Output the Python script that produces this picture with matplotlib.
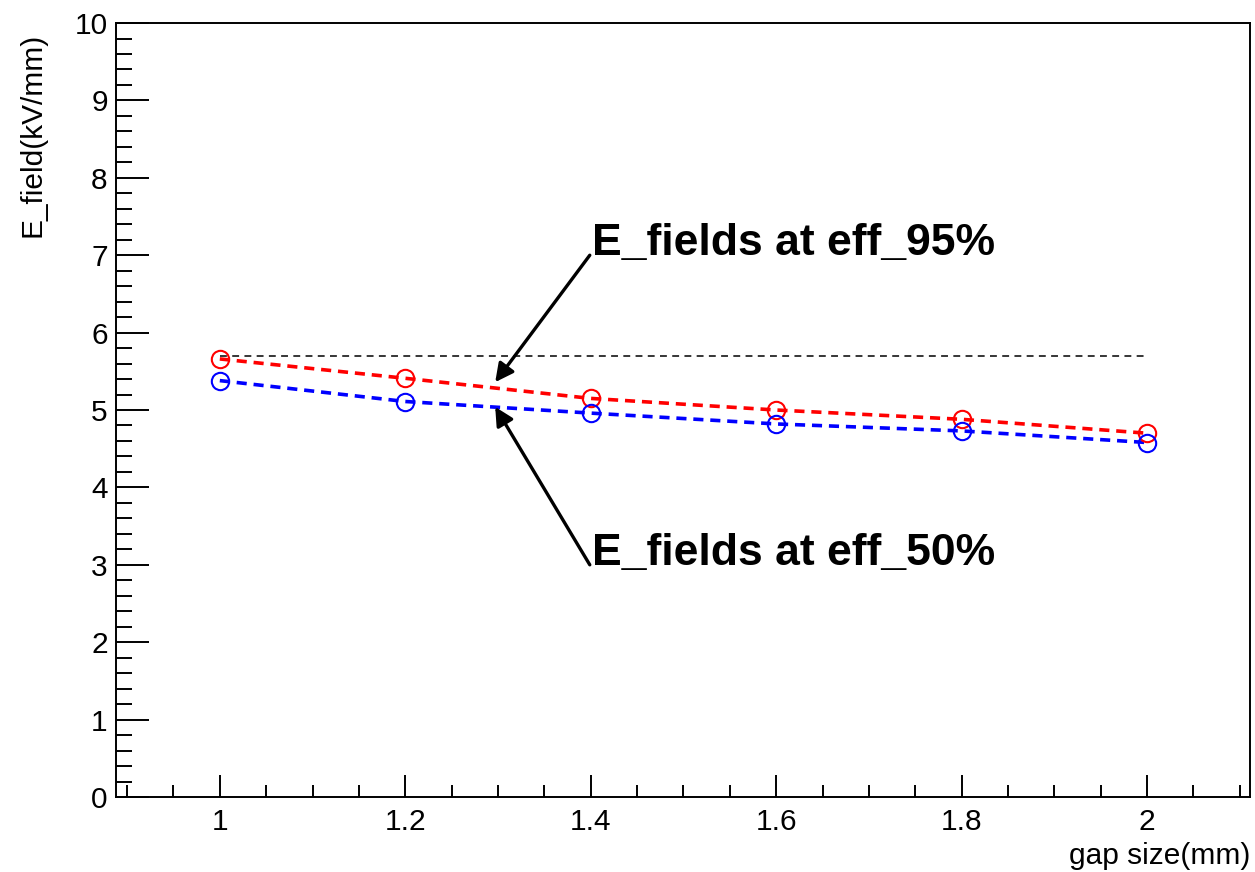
import numpy as np
import matplotlib
matplotlib.use("Agg")
import matplotlib.pyplot as plt
from matplotlib.ticker import MultipleLocator

plt.rcParams['font.family'] = ['Liberation Sans', 'DejaVu Sans']

# data
gap = [1.0, 1.2, 1.4, 1.6, 1.8, 2.0]
eff95 = [5.66, 5.41, 5.15, 5.00, 4.88, 4.70]
eff50 = [5.38, 5.11, 4.96, 4.82, 4.73, 4.58]
ref_x = [1.0, 2.0]
ref_y = [5.70, 5.70]

fig = plt.figure(figsize=(12.55, 8.72), dpi=100)
ax = fig.add_axes([0.0924, 0.086, 0.9036, 0.8876])

ax.plot(ref_x, ref_y, color="black", lw=1.1, linestyle=(0, (4.5, 3.5)))
ax.plot(gap, eff95, color="red", lw=2.6, linestyle=(0, (2.8, 1.9)))
ax.plot(gap, eff50, color="blue", lw=2.6, linestyle=(0, (2.8, 1.9)))
ax.plot(gap, eff95, "o", mfc="none", mec="red", ms=12.5, mew=1.5)
ax.plot(gap, eff50, "o", mfc="none", mec="blue", ms=12.5, mew=1.5)

# labels with arrows pointing at the curves
arrow = dict(arrowstyle="-|>,head_length=0.55,head_width=0.28", color="black",
             lw=2.4, shrinkA=0, shrinkB=0, mutation_scale=20)
ax.text(1.401, 7.0, "E_fields at eff_95%", fontsize=32, fontweight="bold",
        ha="left", va="baseline")
ax.annotate("", xy=(1.297, 5.36), xytext=(1.399, 7.0), arrowprops=arrow)
ax.text(1.401, 3.0, "E_fields at eff_50%", fontsize=32, fontweight="bold",
        ha="left", va="baseline")
ax.annotate("", xy=(1.297, 5.04), xytext=(1.399, 3.0), arrowprops=arrow)

ax.set_xlim(0.888, 2.111)
ax.set_ylim(0, 10)
ax.xaxis.set_minor_locator(MultipleLocator(0.05))
ax.yaxis.set_minor_locator(MultipleLocator(0.2))
ax.set_xticks([1, 1.2, 1.4, 1.6, 1.8, 2])
ax.set_xticklabels(["1", "1.2", "1.4", "1.6", "1.8", "2"])
ax.set_yticks(range(11))
ax.set_yticklabels([str(i) for i in range(11)])

ax.tick_params(axis="both", which="both", direction="in", labelsize=21.5,
               width=1.4, top=False, right=False)
ax.tick_params(axis="x", which="major", length=15.6, pad=8)
ax.tick_params(axis="x", which="minor", length=8.4)
ax.tick_params(axis="y", which="major", length=24, pad=6)
ax.tick_params(axis="y", which="minor", length=11.5)
for s in ax.spines.values():
    s.set_linewidth(1.4)

ax.set_ylabel("E_field(kV/mm)", fontsize=21.5, loc="top")
ax.yaxis.set_label_coords(-0.061, 0.987)
ax.set_xlabel("gap size(mm)", fontsize=21.5, loc="right")

fig.savefig("out.png", dpi=100)
